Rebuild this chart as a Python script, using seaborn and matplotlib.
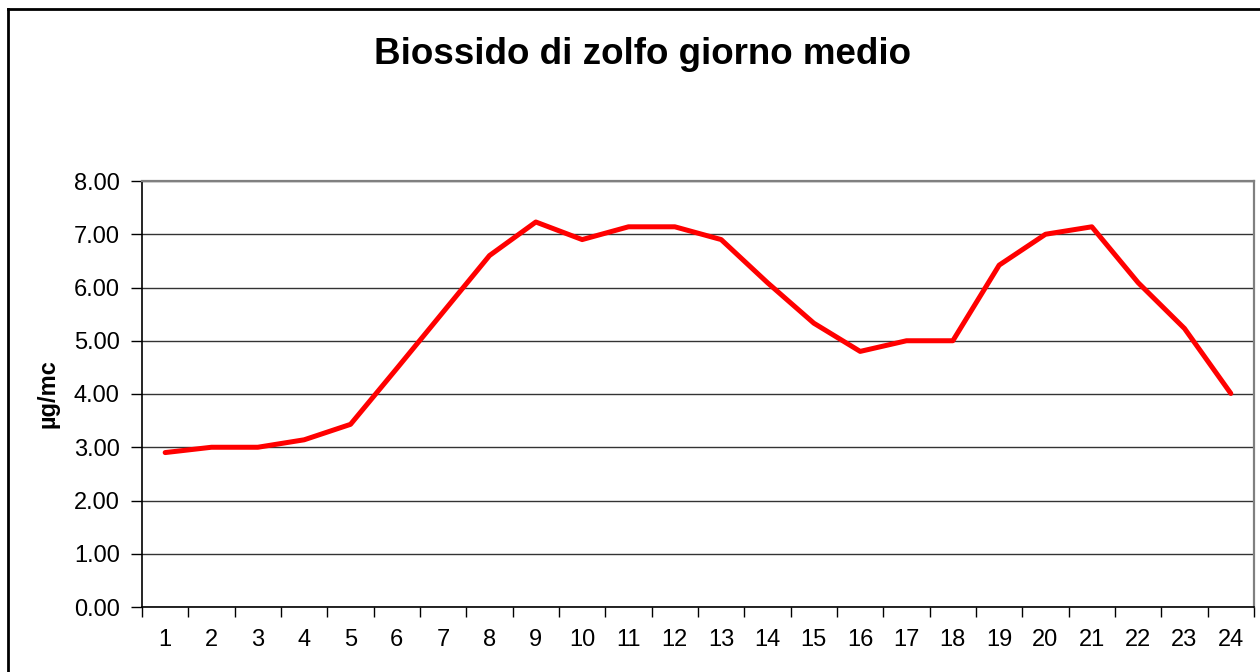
import pandas as pd
import numpy as np
import matplotlib
matplotlib.use('Agg')
import matplotlib.pyplot as plt
import seaborn as sns
from matplotlib.lines import Line2D
from matplotlib.ticker import MultipleLocator, FixedLocator

# hours of the day and mean SO2 values (ug/mc)
ore = list(range(1, 25))
valori = [2.90, 3.00, 3.00, 3.14, 3.43, 4.48, 5.54, 6.60, 7.23, 6.90, 7.14, 7.14,
          6.90, 6.09, 5.33, 4.80, 5.00, 5.00, 6.42, 7.00, 7.14, 6.09, 5.23, 4.01]
titolo = 'Biossido di zolfo giorno medio'
etichetta_y = 'µg/mc'

sns.set_style('white')
plt.rcParams['font.family'] = ['Liberation Sans', 'DejaVu Sans']
plt.rcParams['text.color'] = 'black'
plt.rcParams['axes.labelcolor'] = 'black'
plt.rcParams['xtick.color'] = 'black'
plt.rcParams['ytick.color'] = 'black'

data = pd.DataFrame({'ora': ore, 'valore': valori})

fig = plt.figure(figsize=(12.6, 6.72), dpi=100)
ax = fig.add_axes([142 / 1260, 1 - 607 / 672, (1254 - 142) / 1260, (607 - 181) / 672])

sns.lineplot(data=data, x='ora', y='valore', color='#ff0000', linewidth=3.6, ax=ax)

ax.set_xlim(0.5, 24.5)
ax.set_ylim(0, 8)

# y axis
ax.yaxis.set_major_locator(MultipleLocator(1))
ax.yaxis.set_major_formatter(matplotlib.ticker.FormatStrFormatter('%.2f'))
ax.tick_params(axis='y', which='major', direction='out', length=8, width=1,
               color='black', pad=8, labelsize=17, left=True)
ax.grid(axis='y', color='#333333', linewidth=1)
ax.set_axisbelow(True)

# x axis: labels at categories, tick marks between
ax.xaxis.set_major_locator(FixedLocator(ore))
ax.set_xticklabels([str(o) for o in ore])
ax.xaxis.set_minor_locator(FixedLocator(np.arange(0.5, 25, 1)))
ax.tick_params(axis='x', which='major', length=0, pad=16, labelsize=17, bottom=True)
ax.tick_params(axis='x', which='minor', direction='out', length=7, width=1,
               color='black', bottom=True)

ax.set_xlabel('')
ax.set_ylabel(etichetta_y, fontsize=17, fontweight='bold', labelpad=10)

for s in ['left', 'bottom']:
    ax.spines[s].set_color('black')
    ax.spines[s].set_linewidth(1.2)
for s in ['top', 'right']:
    ax.spines[s].set_color('#808080')
    ax.spines[s].set_linewidth(1.6)

fig.text(642 / 1260, 1 - 55 / 672, titolo, ha='center', va='center',
         fontsize=26.5, fontweight='bold')

# outer chart border: only left and top edges are inside the picture
bx, by = 8 / 1260, 1 - 9 / 672
fig.add_artist(Line2D([bx, bx], [0, by], transform=fig.transFigure,
                      color='black', linewidth=2, solid_capstyle='projecting'))
fig.add_artist(Line2D([bx, 1], [by, by], transform=fig.transFigure,
                      color='black', linewidth=2, solid_capstyle='projecting'))

fig.savefig('out.png', dpi=100)
